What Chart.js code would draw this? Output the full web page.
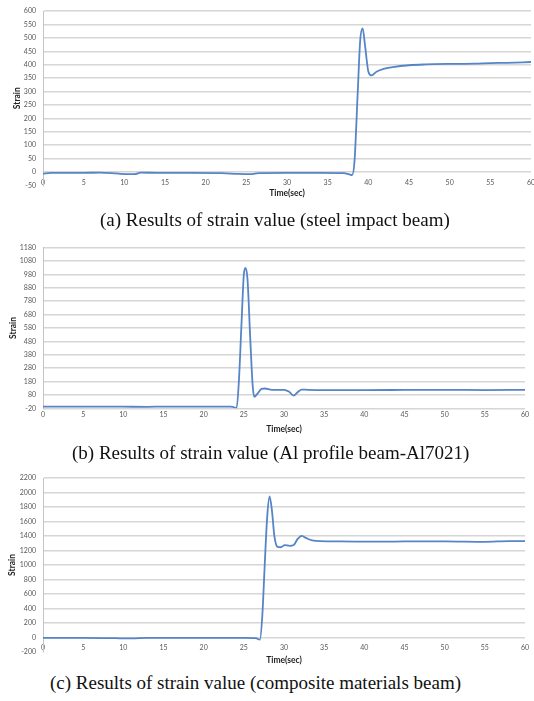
<!DOCTYPE html>
<html lang="en">
<head>
<meta charset="UTF-8">
<title>Results of strain value</title>
<script src="https://cdn.jsdelivr.net/npm/chart.js"></script>
<style>
  body { margin: 0; background: #fff; width: 534px; height: 701px; position: relative; overflow: hidden; }
  .box { position: absolute; left: 0; width: 534px; }
  .caption { position: absolute; font-family: "Liberation Serif", "Times New Roman", serif; font-size: 19px; line-height: 19px; color: #111; white-space: nowrap; }
</style>
</head>
<body>
<div class="box" style="top:0;height:200px"><canvas id="chartA"></canvas></div>
<div class="box" style="top:230px;height:210px"><canvas id="chartB"></canvas></div>
<div class="box" style="top:455px;height:215px"><canvas id="chartC"></canvas></div>

<div class="caption" style="top:210px;left:100px">(a) Results of strain value (steel impact beam)</div>
<div class="caption" style="top:443px;left:72px">(b) Results of strain value (Al profile beam-Al7021)</div>
<div class="caption" style="top:673px;left:50px">(c) Results of strain value (composite materials beam)</div>

<script>
// x ticks shared by all three plots
const timeTicks = [0, 5, 10, 15, 20, 25, 30, 35, 40, 45, 50, 55, 60];

// (a) steel impact beam
const timeA = [0, 1, 3, 5, 7, 9, 10.5, 11.3, 12, 14, 18, 22, 24, 25.5, 26.5, 30, 34, 37, 37.6, 38.0,
  38.3, 38.7, 39.0, 39.3, 39.6, 40.0, 40.4, 41, 42, 43, 45, 47, 50, 53, 55, 57, 60];
const strainA = [-6, -3, -3, -3, -2, -5, -8, -8, -2, -3, -3, -4, -7, -8, -4, -3, -3, -4, -8, -11,
  40, 300, 490, 535, 470, 375, 360, 374, 385, 391, 398, 401, 403, 404, 406, 407, 410];
const strainTicksA = [-50, 0, 50, 100, 150, 200, 250, 300, 350, 400, 450, 500, 550, 600];

// (b) Al profile beam-Al7021
const timeB = [0, 5, 10, 13, 15, 20, 23.3, 23.7, 24.1, 24.4, 24.7, 25.0, 25.2, 25.45, 25.8, 26.1, 26.3,
  26.7, 27.2, 27.6, 28.5, 30, 30.6, 31.2, 31.7, 32.2, 33, 35, 40, 45, 50, 55, 60];
const strainB = [-7, -7, -8, -9, -7, -7, -7, -11, -18, 200, 600, 980, 1030, 950, 500, 150, 65,
  90, 125, 128, 118, 118, 105, 75, 100, 120, 118, 116, 116, 117, 118, 116, 118];
const strainTicksB = [-20, 80, 180, 280, 380, 480, 580, 680, 780, 880, 980, 1080, 1180];

// (c) composite materials beam
const timeC = [0, 5, 9, 11, 13, 20, 25, 26.5, 27.0, 27.3, 27.6, 27.9, 28.2, 28.5, 28.8, 29.2, 29.6,
  30.1, 30.7, 31.2, 31.7, 32.2, 32.8, 33.5, 34.5, 37, 42, 45, 50, 55, 58, 60];
const strainC = [-5, -5, -10, -12, -5, -5, -6, -10, -30, 300, 1000, 1650, 1945, 1750, 1400, 1250, 1245,
  1275, 1265, 1275, 1360, 1403, 1370, 1340, 1328, 1325, 1322, 1325, 1327, 1320, 1330, 1330];
const strainTicksC = [-200, 0, 200, 400, 600, 800, 1000, 1200, 1400, 1600, 1800, 2000, 2200];

const fontFam = "Lato, 'Open Sans', sans-serif";

function criarGrafico(id, times, values, yTicks, cfg) {
  const yMin = yTicks[0], yMax = yTicks[yTicks.length - 1];
  return new Chart(document.getElementById(id), {
    type: "line",
    data: {
      datasets: [{
        data: times.map((t, i) => ({ x: t, y: values[i] })),
        borderColor: "#5585c6",
        borderWidth: 1.8,
        pointRadius: 0,
        fill: false,
        cubicInterpolationMode: "monotone"
      }]
    },
    options: {
      responsive: true,
      maintainAspectRatio: false,
      animation: false,
      layout: { padding: { left: 0, top: cfg.top, right: cfg.right, bottom: cfg.bottom } },
      plugins: { legend: { display: false }, tooltip: { enabled: false } },
      scales: {
        x: {
          type: "linear",
          position: cfg.xPos,
          min: 0, max: 60,
          afterBuildTicks: s => { s.ticks = timeTicks.map(v => ({ value: v })); },
          afterFit: s => { s.height = cfg.xHeight; s.paddingLeft = 0; s.paddingRight = 0; },
          grid: { display: false, drawTicks: false },
          border: { display: false },
          ticks: { color: "#595959", font: { family: fontFam, size: 7 }, padding: cfg.labelPad, maxRotation: 0, autoSkip: false, callback: v => String(v) },
          title: { display: true, text: "Time(sec)", color: "#222", font: { family: fontFam, size: 8.5, weight: "bold" }, padding: { top: 0, bottom: cfg.titlePad } }
        },
        y: {
          min: yMin, max: yMax,
          afterBuildTicks: s => { s.ticks = yTicks.map(v => ({ value: v })); },
          afterFit: s => { s.width = 43; s.paddingTop = 0; s.paddingBottom = 0; },
          grid: {
            drawTicks: false,
            lineWidth: 1.5,
            color: c => (cfg.hideMin && c.tick && c.tick.value === yMin) ? "rgba(0,0,0,0)" : "#d6d6d6"
          },
          border: { display: true, color: "#c4c4c4", width: 1 },
          ticks: { color: "#595959", font: { family: fontFam, size: 7 }, padding: 7, callback: v => String(v) },
          title: { display: true, text: "Strain", color: "#222", font: { family: fontFam, size: 8.5, weight: "bold" }, padding: { top: cfg.yTitlePad, bottom: 0 } }
        }
      }
    }
  });
}

criarGrafico("chartA", timeA, strainA, strainTicksA,
  { top: 11, right: 3, bottom: 14.5, xPos: { y: 0 }, xHeight: 30, labelPad: 6, titlePad: 3.9, yTitlePad: 11.9, hideMin: true });
criarGrafico("chartB", timeB, strainB, strainTicksB,
  { top: 17.7, right: 9, bottom: 0, xPos: "bottom", xHeight: 31.7, labelPad: 2.5, titlePad: 5.9, yTitlePad: 7.9, hideMin: false });
criarGrafico("chartC", timeC, strainC, strainTicksC,
  { top: 23, right: 9, bottom: 18, xPos: { y: 0 }, xHeight: 32, labelPad: 6, titlePad: 3.9, yTitlePad: 6.9, hideMin: true });
</script>
</body>
</html>
